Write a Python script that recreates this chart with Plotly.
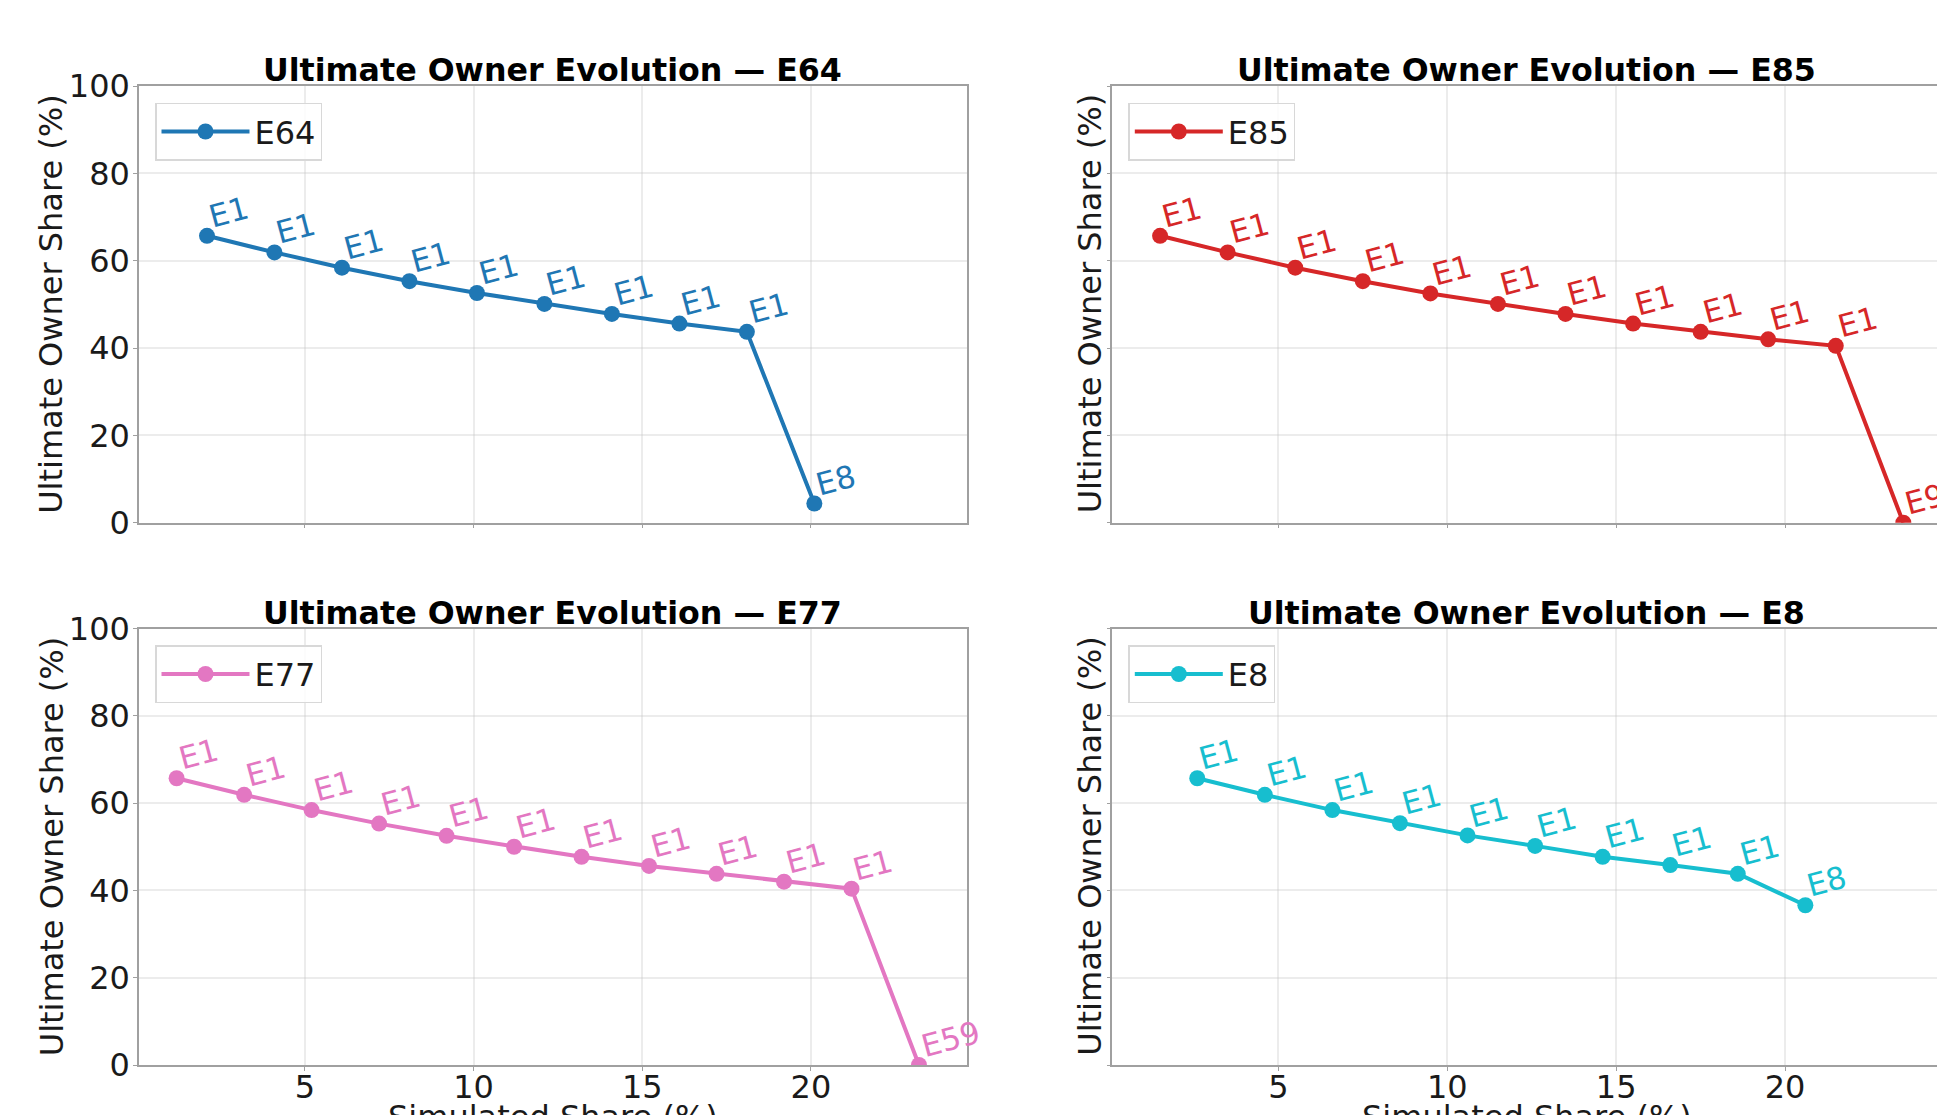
import plotly.graph_objects as go

# ---------------- data ----------------
entities = ["E64", "E85", "E77", "E8"]
colors = ["#1f77b4", "#d62728", "#e377c2", "#17becf"]

sim_E64 = [2.1, 4.1, 6.1, 8.1, 10.1, 12.1, 14.1, 16.1, 18.1, 20.1]
uo_E64 = [65.7, 61.9, 58.4, 55.3, 52.6, 50.1, 47.8, 45.6, 43.7, 4.4]
owner_E64 = ["E1", "E1", "E1", "E1", "E1", "E1", "E1", "E1", "E1", "E8"]

sim_E85 = [1.5, 3.5, 5.5, 7.5, 9.5, 11.5, 13.5, 15.5, 17.5, 19.5, 21.5, 23.5]
uo_E85 = [65.7, 61.9, 58.4, 55.3, 52.5, 50.1, 47.8, 45.6, 43.7, 42.0, 40.5, 0.0]
owner_E85 = ["E1", "E1", "E1", "E1", "E1", "E1", "E1", "E1", "E1", "E1", "E1", "E9"]

sim_E77 = [1.2, 3.2, 5.2, 7.2, 9.2, 11.2, 13.2, 15.2, 17.2, 19.2, 21.2, 23.2]
uo_E77 = [65.7, 61.9, 58.4, 55.3, 52.5, 50.0, 47.7, 45.6, 43.8, 42.0, 40.4, 0.0]
owner_E77 = ["E1", "E1", "E1", "E1", "E1", "E1", "E1", "E1", "E1", "E1", "E1", "E59"]

sim_E8 = [2.6, 4.6, 6.6, 8.6, 10.6, 12.6, 14.6, 16.6, 18.6, 20.6]
uo_E8 = [65.7, 61.9, 58.4, 55.4, 52.6, 50.2, 47.7, 45.8, 43.8, 36.6]
owner_E8 = ["E1", "E1", "E1", "E1", "E1", "E1", "E1", "E1", "E1", "E8"]

x_ticks = [5, 10, 15, 20]
y_ticks = [0, 20, 40, 60, 80, 100]
x_range = [0.085, 24.615]
y_range = [0, 100]

title_prefix = "Ultimate Owner Evolution — "
y_title = "Ultimate Owner Share (%)"
x_title = "Simulated Share (%)"

# ---------------- layout geometry ----------------
W, H = 1945, 1115
OFF = 8  # page body margin
FONT = "DejaVu Sans"

def px_x(v):
    return (v - OFF) / W

def px_y(v):
    return 1 - (v - OFF) / H

col_dom = [[px_x(139), px_x(966.7)], [px_x(1112.3), px_x(1941)]]
row_dom = [[px_y(522.7), px_y(86)], [px_y(1065), px_y(628.5)]]

panels = [
    (sim_E64, uo_E64, owner_E64, 0, 0),
    (sim_E85, uo_E85, owner_E85, 0, 1),
    (sim_E77, uo_E77, owner_E77, 1, 0),
    (sim_E8, uo_E8, owner_E8, 1, 1),
]

fig = go.Figure()
layout = dict(
    template="none",
    width=W, height=H, autosize=False,
    margin=dict(l=0, r=0, t=0, b=0, pad=0, autoexpand=False),
    paper_bgcolor="white", plot_bgcolor="white",
    font=dict(family=FONT, size=32, color="#1a1a1a"),
    showlegend=True,
)
annotations = []

for i, (xs, ys, labels, r, c) in enumerate(panels):
    n = "" if i == 0 else str(i + 1)
    name = entities[i]
    col = colors[i]
    leg = "legend" if i == 0 else f"legend{i + 1}"
    fig.add_trace(go.Scatter(
        x=xs, y=ys, mode="lines+markers", name=name,
        line=dict(color=col, width=4),
        marker=dict(color=col, size=16),
        xaxis="x" + n, yaxis="y" + n, legend=leg,
    ))
    axis_common = dict(
        automargin=False,
        showline=True, mirror=True, linecolor="#a0a0a0", linewidth=1.5,
        showgrid=True, gridcolor="rgba(200,200,200,0.35)", gridwidth=1.5,
        ticks="outside", ticklen=4, tickwidth=1.2, tickcolor="#a0a0a0",
        tickfont=dict(family=FONT, size=32, color="#1a1a1a"),
        zeroline=False, fixedrange=True,
    )
    layout["xaxis" + n] = dict(
        axis_common, domain=col_dom[c], range=x_range,
        tickmode="array", tickvals=x_ticks, ticklabelstandoff=-11,
        showticklabels=(r == 1), anchor="y" + n,
    )
    layout["yaxis" + n] = dict(
        axis_common, domain=row_dom[r], range=y_range,
        tickmode="array", tickvals=y_ticks, ticklabelstandoff=-3,
        showticklabels=(c == 0), anchor="x" + n,
    )
    left_px = 139 if c == 0 else 1112.3
    right_px = 966.7 if c == 0 else 1941
    top_px = 86 if r == 0 else 628.5
    bot_px = 522.7 if r == 0 else 1065
    cx = (left_px + right_px) / 2
    cy = (top_px + bot_px) / 2

    # legend
    layout[leg] = dict(
        x=px_x(left_px + 16), y=px_y(top_px + 16.7),
        xanchor="left", yanchor="top",
        bgcolor="rgba(255,255,255,0.85)", bordercolor="#d8d8d8", borderwidth=1.5,
        font=dict(family=FONT, size=32, color="#1a1a1a"),
        itemwidth=88,
    )
    # subplot title
    annotations.append(dict(
        text=title_prefix + name, xref="paper", yref="paper",
        x=px_x(cx), y=px_y(top_px), xanchor="center", yanchor="bottom",
        yshift=-4, showarrow=False,
        font=dict(family=FONT, size=31.7, color="black", weight="bold"),
    ))
    # y-axis title
    ytx = 51.5 if c == 0 else 1090
    annotations.append(dict(
        text=y_title, xref="paper", yref="paper",
        x=px_x(ytx), y=px_y(cy), xanchor="center", yanchor="middle",
        textangle=-90, showarrow=False,
        font=dict(family=FONT, size=32, color="#1a1a1a"),
    ))
    # x-axis title (bottom row only)
    if r == 1:
        annotations.append(dict(
            text=x_title, xref="paper", yref="paper",
            x=px_x(cx), y=px_y(1096), xanchor="center", yanchor="top",
            showarrow=False,
            font=dict(family=FONT, size=32, color="#1a1a1a"),
        ))
    # point labels
    for xv, yv, lab in zip(xs, ys, labels):
        annotations.append(dict(
            text=lab, x=xv, y=yv, xref="x" + n, yref="y" + n,
            xanchor="left", yanchor="bottom", xshift=-4.5, yshift=-1,
            textangle=-15, showarrow=False,
            font=dict(family=FONT, size=31, color=col),
        ))

layout["annotations"] = annotations
fig.update_layout(**layout)
fig.write_html("out.html")
